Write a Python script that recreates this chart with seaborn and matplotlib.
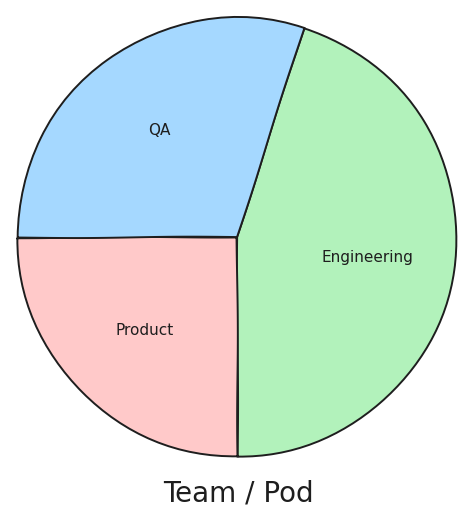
import numpy as np
import seaborn as sns
import matplotlib.pyplot as plt

# data
teams = ["Engineering", "Product", "QA"]
shares = [45, 25, 30]
colors = ["#b2f2bb", "#ffc9c9", "#a5d8ff"]

sns.set_style("white")
plt.rcParams['font.family'] = ['DejaVu Sans']

fig = plt.figure(figsize=(4.76, 5.22), dpi=100)
ax = fig.add_axes([13 / 476, 61 / 522, 448 / 476, 448 / 522])

wedges, texts = ax.pie(
    shares, labels=teams, colors=colors,
    startangle=72.2, counterclock=False,
    labeldistance=0.6, radius=1.0,
    wedgeprops=dict(edgecolor="#1e1e1e", linewidth=1.4),
    textprops=dict(fontsize=11, color="#1e1e1e", ha="center", va="center"),
)
for w in wedges:
    w.set_sketch_params(0.5, 200, 1)
for t in texts:
    t.set_horizontalalignment("center")

ax.set_xlim(-1.02, 1.02)
ax.set_ylim(-1.02, 1.02)
ax.set_aspect("equal")
ax.axis("off")

fig.text(0.5, 1 - 493 / 522, "Team / Pod", ha="center", va="center",
         fontsize=20, color="#1e1e1e")

fig.savefig("out.png", dpi=100, facecolor="white")
